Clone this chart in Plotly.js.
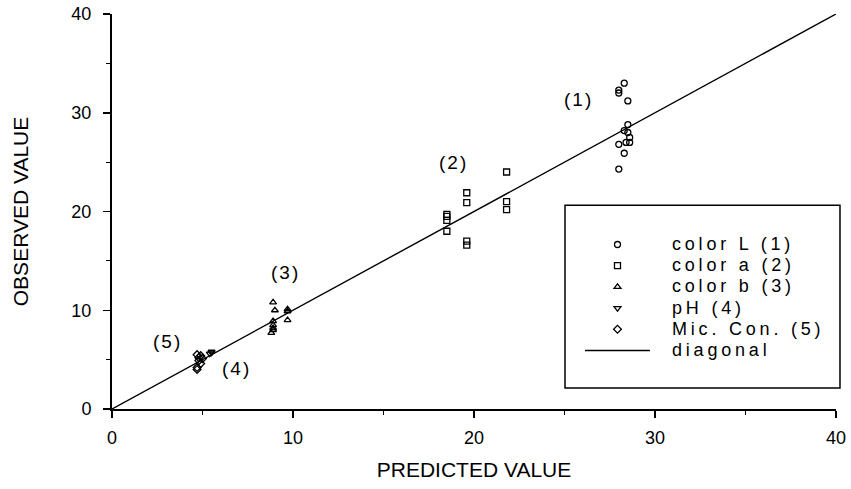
<!DOCTYPE html>
<html>
<head>
<meta charset="utf-8">
<script src="https://cdn.plot.ly/plotly-3.0.1.min.js"></script>
<style>
  html, body { margin: 0; padding: 0; background: #fff; }
  #chart { width: 851px; height: 489px; }
  .legendtext { font-size: 18px !important; letter-spacing: 3.8px; transform: translateX(17px); }
  .legend .scrollbox { clip-path: none !important; }
  .annotation-text { letter-spacing: 2px; }
</style>
</head>
<body>
<div id="chart"></div>
<script>
// ---- data ----
const colorL_pred = [28.0, 28.0, 28.3, 28.5, 28.5, 28.3, 28.5, 28.6, 28.0, 28.4, 28.6, 28.3, 28.0];
const colorL_obs  = [32.3, 32.0, 33.0, 31.2, 28.8, 28.2, 28.0, 27.5, 26.8, 27.0, 27.0, 25.9, 24.3];

const colorA_pred = [21.8, 19.6, 19.6, 18.5, 18.5, 18.5, 18.5, 21.8, 21.8, 19.6, 19.6];
const colorA_obs  = [24.0, 21.9, 20.9, 19.7, 19.5, 19.1, 18.0, 21.0, 20.2, 17.0, 16.6];

const colorB_pred = [8.9, 9.0, 9.7, 9.7, 9.7, 8.9, 8.9, 8.9, 8.9, 8.8];
const colorB_obs  = [10.8, 10.0, 10.1, 9.9, 9.0, 8.9, 8.5, 8.2, 8.0, 7.7];

const pH_pred = [5.4, 5.5, 5.5];
const pH_obs  = [5.6, 5.8, 5.7];

const mic_pred = [4.7, 4.9, 5.0, 4.8, 4.9, 4.7, 4.7, 4.8];
const mic_obs  = [5.5, 5.4, 5.1, 4.9, 4.6, 4.2, 4.0, 5.2];

const diag_x = [0, 40];
const diag_y = [0, 40];

const seriesNames = ['color L (1)', 'color a (2)', 'color b (3)', 'pH (4)', 'Mic. Con. (5)', 'diagonal'];
const xTicks = [0, 10, 20, 30, 40];
const yTicks = [0, 10, 20, 30, 40];

const groupLabels = ['(1)', '(2)', '(3)', '(4)', '(5)'];
const groupLabelX = [25.75, 18.84, 9.56, 6.9, 3.04];
const groupLabelY = [31.3, 25.0, 13.8, 4.15, 6.8];

// ---- chart ----
const FONT = 'Liberation Sans, Arial, sans-serif';
function mk(x, y, name, symbol) {
  return {
    type: 'scatter', mode: 'markers', x: x, y: y, name: name,
    marker: { symbol: symbol, size: 6, color: 'rgba(255,255,255,0)', line: { color: '#000', width: 1.3 } }
  };
}
const traces = [
  mk(colorL_pred, colorL_obs, seriesNames[0], 'circle'),
  mk(colorA_pred, colorA_obs, seriesNames[1], 'square'),
  mk(colorB_pred, colorB_obs, seriesNames[2], 'triangle-up'),
  mk(pH_pred, pH_obs, seriesNames[3], 'triangle-down'),
  mk(mic_pred, mic_obs, seriesNames[4], 'diamond'),
  { type: 'scatter', mode: 'lines', x: diag_x, y: diag_y, name: seriesNames[5],
    line: { color: '#000', width: 1.4 } }
];

const annotations = groupLabels.map((t, i) => ({
  x: groupLabelX[i], y: groupLabelY[i], xref: 'x', yref: 'y', text: t, showarrow: false,
  font: { family: FONT, size: 19, color: '#000' }
}));

const axisCommon = {
  range: [0, 40], autorange: false, showgrid: false, zeroline: false,
  showline: true, linecolor: '#000', linewidth: 2,
  ticks: 'outside', ticklen: 7, tickwidth: 1.5, tickcolor: '#000',
  tickfont: { family: FONT, size: 18, color: '#000' },
  minor: { dtick: 5, ticks: 'outside', ticklen: 4, tickwidth: 1.2, tickcolor: '#000' },
  fixedrange: true
};

const layout = {
  width: 851, height: 489,
  margin: { l: 112, r: 15, t: 14, b: 80 },
  paper_bgcolor: '#fff', plot_bgcolor: '#fff',
  showlegend: true,
  xaxis: Object.assign({}, axisCommon, {
    tickvals: xTicks, ticktext: xTicks.map(String), ticklabelstandoff: 4,
    title: { text: 'PREDICTED VALUE', font: { family: FONT, size: 21, color: '#000' }, standoff: 16 }
  }),
  yaxis: Object.assign({}, axisCommon, {
    tickvals: yTicks, ticktext: yTicks.map(String), ticklabelstandoff: 8,
    title: { text: 'OBSERVED VALUE', font: { family: FONT, size: 21, color: '#000' }, standoff: 37 }
  }),
  legend: {
    x: 0.6464, y: 0.456, xanchor: 'left', yanchor: 'top',
    bgcolor: 'rgba(0,0,0,0)', borderwidth: 0,
    font: { family: FONT, size: 14, color: '#000' },
    itemwidth: 65
  },
  shapes: [{
    type: 'rect', xref: 'paper', yref: 'paper',
    x0: 0.6257, x1: 1.0055, y0: 0.0532, y1: 0.516,
    line: { color: '#000', width: 1.5 }, fillcolor: 'rgba(0,0,0,0)'
  }],
  annotations: annotations
};

Plotly.newPlot('chart', traces, layout, { displayModeBar: false, staticPlot: true });
</script>
</body>
</html>
